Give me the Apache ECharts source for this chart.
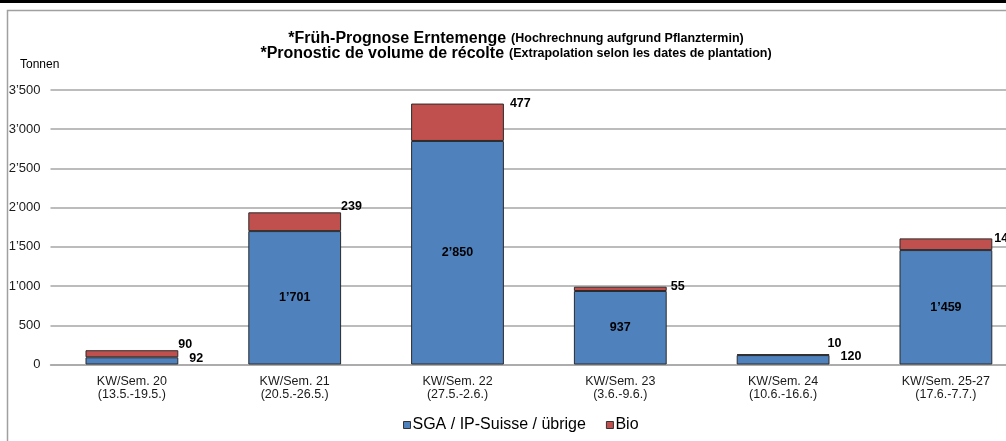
<!DOCTYPE html>
<html>
<head>
<meta charset="utf-8">
<script src="https://cdn.jsdelivr.net/npm/echarts@6/dist/echarts.min.js"></script>
<style>
  html, body { margin: 0; padding: 0; background: #fff; overflow: hidden; }
  /* Diagramm ist rechts abgeschnitten wie im Original */
  #chart { width: 1028px; height: 441px; }
</style>
</head>
<body>
<div id="chart"></div>
<script>
// Kategorien (Kalenderwochen)
var weeks = ['KW/Sem. 20', 'KW/Sem. 21', 'KW/Sem. 22', 'KW/Sem. 23', 'KW/Sem. 24', 'KW/Sem. 25-27']
var periods = ['(13.5.-19.5.)', '(20.5.-26.5.)', '(27.5.-2.6.)', '(3.6.-9.6.)', '(10.6.-16.6.)', '(17.6.-7.7.)']
// Tonnen
var sgaValues = [92, 1701, 2850, 937, 120, 1459]
var bioValues = [90, 239, 477, 55, 10, 149]
var yTicks = [0, 500, 1000, 1500, 2000, 2500, 3000, 3500]

var font = '"Liberation Sans", Arial, sans-serif'

// 1'701 -> Schweizer Tausendertrennzeichen
function fmt(v) {
  return String(v).replace(/\B(?=(\d{3})+(?!\d))/g, '\u2019')
}

var chart = echarts.init(document.getElementById('chart'))

// kleine Balken: Beschriftung rechts neben dem Balken
var smallLabel = {
  position: ['100%', 0],
  align: 'left',
  verticalAlign: 'middle',
  offset: [11, 1]
}

// Bio-Beschriftungen wurden im Original von Hand verschoben
var bioLabelStyle = [
  { verticalAlign: 'bottom', offset: [0, 1] },
  { verticalAlign: 'bottom', offset: [0, 1] },
  { verticalAlign: 'middle', offset: [6, 0] },
  { verticalAlign: 'middle', offset: [4, 0] },
  { verticalAlign: 'bottom', offset: [-2, -4] },
  { verticalAlign: 'middle', offset: [2, 0] }
]

chart.setOption({
  animation: false,
  textStyle: { fontFamily: font },
  title: {
    left: 511,
    top: 26,
    textAlign: 'center',
    text: '{a|*Früh-Prognose Erntemenge} {b|(Hochrechnung aufgrund Pflanztermin)}\n' +
      '{a|*Pronostic de volume de récolte} {b|(Extrapolation selon les dates de plantation)}',
    textStyle: {
      lineHeight: 15,
      rich: {
        a: { fontFamily: font, fontSize: 16, fontWeight: 'bold', color: '#000', lineHeight: 15 },
        b: { fontFamily: font, fontSize: 12.5, fontWeight: 'bold', color: '#000', lineHeight: 15 }
      }
    }
  },
  graphic: [
    { type: 'rect', shape: { x: 0, y: 0, width: 1028, height: 3 }, style: { fill: '#000' }, silent: true },
    { type: 'rect', shape: { x: 7.5, y: 10.5, width: 1100, height: 500 }, style: { fill: 'none', stroke: '#a0a0a0', lineWidth: 1.5 }, silent: true },
    { type: 'text', left: 20, top: 59, style: { text: 'Tonnen', fontFamily: font, fontSize: 12, fill: '#000' }, silent: true }
  ],
  legend: {
    bottom: 3,
    left: 398,
    itemWidth: 7,
    itemHeight: 7,
    itemGap: 20,
    icon: 'rect',
    textStyle: { fontFamily: font, fontSize: 16, color: '#000', padding: [0, 0, 0, -3] },
    data: [
      { name: 'SGA / IP-Suisse / übrige', itemStyle: { borderColor: '#333', borderWidth: 1 } },
      { name: 'Bio', itemStyle: { borderColor: '#333', borderWidth: 1 } }
    ]
  },
  grid: {
    left: 50.5,
    top: 90,
    width: 976.8,
    bottom: 76.5,
    containLabel: false
  },
  xAxis: {
    type: 'category',
    data: weeks.map(function (w, i) { return w + '\n' + periods[i] }),
    axisTick: { show: false },
    axisLine: { lineStyle: { color: '#a6a6a6', width: 1.5 } },
    axisLabel: {
      interval: 0,
      margin: 11,
      fontFamily: font,
      fontSize: 12.5,
      lineHeight: 13,
      color: '#1a1a1a'
    }
  },
  yAxis: {
    type: 'value',
    min: yTicks[0],
    max: yTicks[yTicks.length - 1],
    interval: 500,
    axisLine: { show: false },
    axisTick: { show: false },
    splitLine: { lineStyle: { color: '#a6a6a6', width: 1.5 } },
    axisLabel: {
      margin: 10,
      fontFamily: font,
      fontSize: 13,
      color: '#1a1a1a',
      formatter: function (v) { return fmt(v) }
    }
  },
  series: [
    {
      name: 'SGA / IP-Suisse / übrige',
      type: 'bar',
      stack: 'total',
      barWidth: '57%',
      itemStyle: { color: '#4f81bd', borderColor: '#2b2b2b', borderWidth: 1 },
      label: {
        show: true,
        position: 'inside',
        fontFamily: font,
        fontSize: 12.5,
        fontWeight: 'bold',
        color: '#000',
        formatter: function (p) { return fmt(p.value) }
      },
      data: sgaValues.map(function (v) {
        return v < 300 ? { value: v, label: smallLabel } : v
      })
    },
    {
      name: 'Bio',
      type: 'bar',
      stack: 'total',
      barWidth: '57%',
      itemStyle: { color: '#c0504d', borderColor: '#2b2b2b', borderWidth: 1 },
      label: {
        show: true,
        position: ['100%', 0],
        align: 'left',
        fontFamily: font,
        fontSize: 12.5,
        fontWeight: 'bold',
        color: '#000',
        formatter: function (p) { return fmt(p.value) }
      },
      data: bioValues.map(function (v, i) {
        return { value: v, label: bioLabelStyle[i] }
      })
    }
  ]
})
</script>
</body>
</html>
